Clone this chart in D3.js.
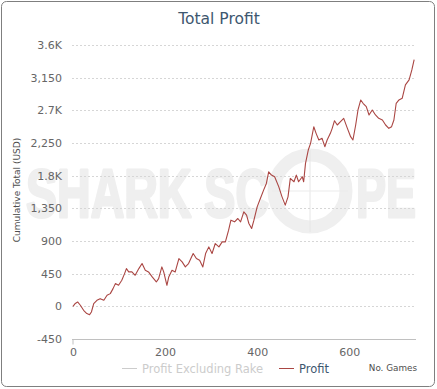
<!DOCTYPE html>
<html>
<head>
<meta charset="utf-8">
<script src="https://cdn.jsdelivr.net/npm/d3@7"></script>
<style>
  body { margin: 0; background: #fff; }
  svg { display: block; font-family: 'DejaVu Sans', Verdana, sans-serif; }
</style>
</head>
<body>
<div id="chart"></div>
<script>
// games played (x) and cumulative profit in USD (y)
const games = [0, 5, 10, 16, 23, 30, 36, 40, 45, 52, 59, 67, 74, 81, 87, 92, 99, 106, 112, 116,
  121, 128, 135, 143, 150, 157, 164, 172, 181, 186, 193, 197, 204, 208, 215, 222, 230, 237, 244, 251,
  261, 268, 275, 282, 288, 295, 302, 309, 317, 324, 331, 338, 343, 351, 358, 364, 371, 377, 382, 388,
  393, 400, 407, 414, 420, 425, 431, 438, 447, 454, 461, 467, 472, 480, 485, 490, 498, 501, 505, 511,
  516, 523, 528, 534, 541, 547, 552, 559, 563, 568, 574, 581, 588, 596, 603, 608, 614, 619, 625, 630,
  637, 643, 650, 657, 664, 672, 679, 686, 692, 697, 702, 708, 715, 722, 730, 736, 741];
const profit = [0, 40, 60, 15, -55, -100, -115, -78, 37, 83, 106, 83, 152, 175, 244, 313, 290, 359, 451, 520,
  474, 474, 428, 520, 589, 497, 474, 405, 336, 382, 543, 474, 290, 405, 497, 474, 658, 612, 543, 589,
  727, 658, 635, 543, 727, 819, 727, 865, 819, 888, 888, 1049, 1187, 1164, 1210, 1164, 1302, 1256, 1141, 1072,
  1187, 1370, 1486, 1601, 1693, 1853, 1808, 1785, 1646, 1508, 1394, 1508, 1762, 1716, 1808, 1716, 1785, 1716, 1969, 2153,
  2245, 2474, 2383, 2291, 2314, 2199, 2291, 2383, 2452, 2557, 2498, 2543, 2590, 2452, 2337, 2291, 2498, 2705, 2843, 2797,
  2751, 2636, 2705, 2636, 2590, 2567, 2498, 2452, 2475, 2567, 2797, 2843, 2866, 3050, 3119, 3257, 3400];

const yTicks = [-450, 0, 450, 900, 1350, 1800, 2250, 2700, 3150, 3600];
const yTickLabels = ['-450', '0', '450', '900', '1,350', '1.8K', '2,250', '2.7K', '3,150', '3.6K'];
const xTicks = [0, 200, 400, 600];
const seriesNames = ['Profit Excluding Rake', 'Profit'];
const seriesColors = ['#cccccc', '#AA4643'];

const width = 437, height = 389;
const margin = {top: 45, right: 21, bottom: 50, left: 73};
const innerwidth = width - margin.left - margin.right;
const innerheight = height - margin.top - margin.bottom;

const svg = d3.select('#chart').append('svg')
  .attr('width', width)
  .attr('height', height);

// chart frame
svg.append('rect')
  .attr('x', 1.5).attr('y', 1.5)
  .attr('width', 433).attr('height', 385)
  .attr('rx', 5)
  .attr('fill', '#fff')
  .attr('stroke', '#7f7f7f');

// watermark (heavy letters, the O drawn as a scope)
const wm = svg.append('g').attr('fill', '#efefef').attr('stroke', '#efefef');
wm.append('text')
  .attr('x', 26).attr('y', 217)
  .attr('textLength', 243).attr('lengthAdjust', 'spacingAndGlyphs')
  .attr('stroke-width', 3).attr('stroke-linejoin', 'round')
  .style('font-family', 'Liberation Sans, Arial, sans-serif')
  .style('font-weight', 'bold').style('font-size', '68px')
  .text('SHARK SC');
wm.append('text')
  .attr('x', 356).attr('y', 217)
  .attr('textLength', 60).attr('lengthAdjust', 'spacingAndGlyphs')
  .attr('stroke-width', 3).attr('stroke-linejoin', 'round')
  .style('font-family', 'Liberation Sans, Arial, sans-serif')
  .style('font-weight', 'bold').style('font-size', '68px')
  .text('PE');
wm.append('circle')
  .attr('cx', 310).attr('cy', 191).attr('r', 36)
  .attr('fill', 'none').attr('stroke-width', 13);
wm.append('line')
  .attr('x1', 310).attr('x2', 310).attr('y1', 150).attr('y2', 232)
  .attr('stroke', '#e6e6e6').attr('stroke-width', 1);
wm.append('line')
  .attr('x1', 272).attr('x2', 348).attr('y1', 191).attr('y2', 191)
  .attr('stroke', '#ebebeb').attr('stroke-width', 1);

let x_scale = d3.scaleLinear().domain([0, 745]).range([margin.left, margin.left + innerwidth]);
let y_scale = d3.scaleLinear().domain([-450, 3600]).range([margin.top + innerheight, margin.top]);

// grid
svg.append('g')
  .selectAll('line')
  .data(yTicks.filter((d) => d !== -450))
  .enter()
  .append('line')
  .attr('x1', margin.left - 1)
  .attr('x2', margin.left + innerwidth)
  .attr('y1', (d) => Math.round(y_scale(d)) + 0.5)
  .attr('y2', (d) => Math.round(y_scale(d)) + 0.5)
  .attr('stroke', '#d6d6d6')
  .attr('stroke-dasharray', '2,2');

// y labels
svg.append('g')
  .selectAll('text')
  .data(yTicks)
  .enter()
  .append('text')
  .attr('x', margin.left - 11)
  .attr('y', (d) => y_scale(d) + 4)
  .attr('text-anchor', 'end')
  .attr('fill', '#666')
  .style('font-size', '11px')
  .text((d, i) => yTickLabels[i]);

// x axis
let xAxis = d3.axisBottom(x_scale).tickValues(xTicks).tickSize(0).tickPadding(9).tickFormat(d3.format('d'));
let gx = svg.append('g')
  .attr('transform', 'translate(0,' + (margin.top + innerheight + 0.5) + ')')
  .call(xAxis);
gx.select('.domain').attr('stroke', '#c0c0c0').attr('d', 'M' + (margin.left - 1) + ',0H' + (margin.left + innerwidth));
gx.selectAll('text').attr('fill', '#666').style('font-size', '11px').style('font-family', "'DejaVu Sans', sans-serif");
gx.append('line')
  .attr('x1', x_scale(0)).attr('x2', x_scale(0))
  .attr('y1', 0).attr('y2', 5)
  .attr('stroke', '#c0c0c0');

// profit line
let draw_line = d3.line()
  .x((d) => x_scale(d[0]))
  .y((d) => y_scale(d[1]));

svg.append('path')
  .datum(d3.zip(games, profit))
  .attr('d', draw_line)
  .attr('fill', 'none')
  .attr('stroke', seriesColors[1])
  .attr('stroke-width', 1.1)
  .attr('stroke-linejoin', 'round');

// title
svg.append('text')
  .attr('x', 219).attr('y', 24)
  .attr('text-anchor', 'middle')
  .attr('fill', '#3E576F')
  .style('font-size', '15.5px')
  .text('Total Profit');

// y axis title
svg.append('text')
  .attr('transform', 'translate(20,190) rotate(-90)')
  .attr('text-anchor', 'middle')
  .attr('fill', '#4d4d4d')
  .style('font-size', '9px')
  .text('Cumulative Total (USD)');

// x axis title
svg.append('text')
  .attr('x', 417).attr('y', 371)
  .attr('text-anchor', 'end')
  .attr('fill', '#4d4d4d')
  .style('font-size', '8.8px')
  .text('No. Games');

// legend
const legendX = [122, 279];
const legend = svg.append('g')
  .selectAll('g')
  .data(seriesNames)
  .enter()
  .append('g')
  .attr('transform', (d, i) => 'translate(' + legendX[i] + ',368)');
legend.append('line')
  .attr('x1', 0).attr('x2', 15)
  .attr('y1', 0.5).attr('y2', 0.5)
  .attr('stroke', (d, i) => seriesColors[i]);
legend.append('text')
  .attr('x', 20).attr('y', 4.5)
  .attr('fill', (d, i) => (i === 0 ? '#cccccc' : '#3E576F'))
  .style('font-size', '11.5px')
  .text((d) => d);
</script>
</body>
</html>
